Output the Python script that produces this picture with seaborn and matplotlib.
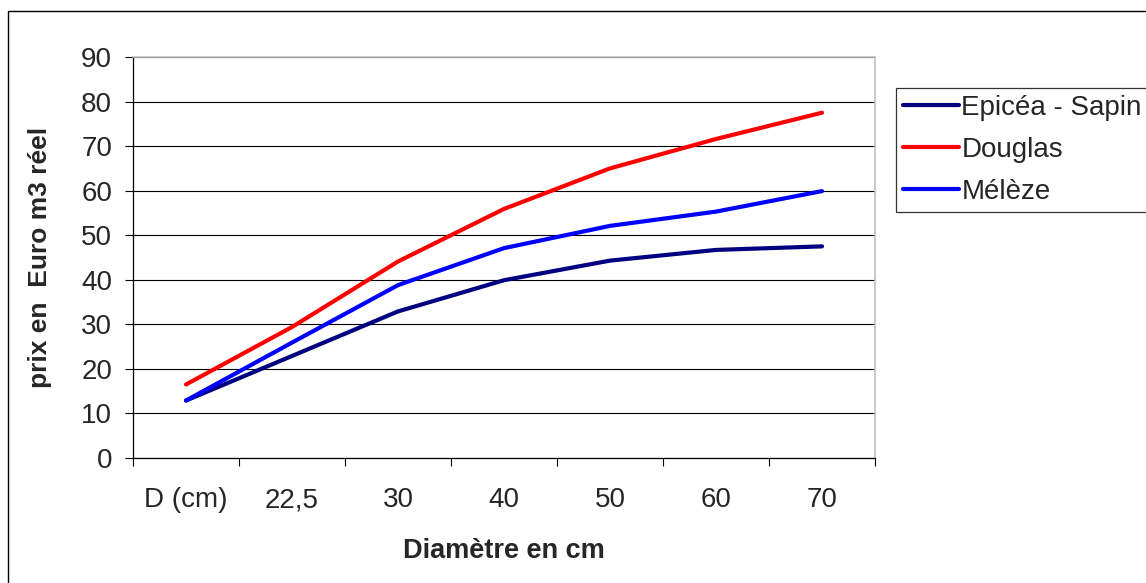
import numpy as np
import pandas as pd
import matplotlib
matplotlib.use("Agg")
import matplotlib.pyplot as plt
import seaborn as sns
from matplotlib.patches import Rectangle
from matplotlib.lines import Line2D

# categories on the x axis (first category is the header cell of the sheet)
categories = ["D (cm)", "22,5", "30", "40", "50", "60", "70"]
epicea = [12.9, 22.9, 32.9, 39.9, 44.3, 46.7, 47.5]
douglas = [16.5, 29.4, 44.1, 55.9, 65.0, 71.6, 77.5]
meleze = [12.9, 25.9, 38.8, 47.1, 52.1, 55.3, 59.9]
series_names = ["Epicéa - Sapin", "Douglas", "Mélèze"]
colors = ["#000080", "#FF0000", "#0000FF"]

rows = []
for name, vals in zip(series_names, [epicea, douglas, meleze]):
    for i, v in enumerate(vals):
        rows.append({"pos": i, "serie": name, "prix": v})
df = pd.DataFrame(rows)

sns.set_style("white")
plt.rcParams['font.family'] = ['Liberation Sans', 'DejaVu Sans']

fig = plt.figure(figsize=(11.46, 5.83), dpi=100)
ax = fig.add_axes([133/1146, 1-458/583, (875-133)/1146, (458-57)/583])

sns.lineplot(data=df, x="pos", y="prix", hue="serie", hue_order=series_names,
             palette=colors, linewidth=3.0, ax=ax, legend=False, sort=False)

ax.set_xlim(-0.5, len(categories) - 0.5)
ax.set_ylim(0, 90)
ax.set_yticks(np.arange(0, 91, 10))
ax.yaxis.grid(True, color="black", linewidth=0.8)
ax.xaxis.grid(False)
ax.set_axisbelow(True)

ax.set_xticks(range(len(categories)))
ax.set_xticklabels(categories)
ax.set_xticks(np.arange(-0.5, len(categories), 1), minor=True)
ax.tick_params(axis="x", which="major", length=0, pad=21, labelsize=20)
ax.tick_params(axis="x", which="minor", length=6, width=0.8, color="black", direction="out")
ax.tick_params(axis="y", length=6, width=0.8, color="black", direction="out", pad=9, labelsize=20)
ax.tick_params(bottom=True, left=True, which="both")

for s in ["left", "bottom"]:
    ax.spines[s].set_color("black")
    ax.spines[s].set_linewidth(0.9)
for s in ["top", "right"]:
    ax.spines[s].set_color("#c0c0c0")
    ax.spines[s].set_linewidth(1.2)

ax.set_xlabel("Diamètre en cm", fontsize=19.5, fontweight="bold", labelpad=18)
ax.set_ylabel("prix en  Euro m3 réel", fontsize=19, fontweight="bold", labelpad=21)

handles = [Line2D([0], [0], color=c, linewidth=3.0) for c in colors]
leg = fig.legend(handles, series_names, loc="upper left",
                 bbox_to_anchor=(896/1146, 1-88/583), fontsize=20,
                 frameon=True, fancybox=False, edgecolor="black",
                 handlelength=2.0, handletextpad=0.1, labelspacing=0.58,
                 borderpad=0.25, borderaxespad=0)
leg.get_frame().set_linewidth(0.9)

fig.patches.append(Rectangle((8/1146, -0.02), 1.1, 1-11/583 + 0.02,
                             transform=fig.transFigure, fill=False,
                             edgecolor="black", linewidth=1.0))

fig.savefig("out.png", dpi=100)
